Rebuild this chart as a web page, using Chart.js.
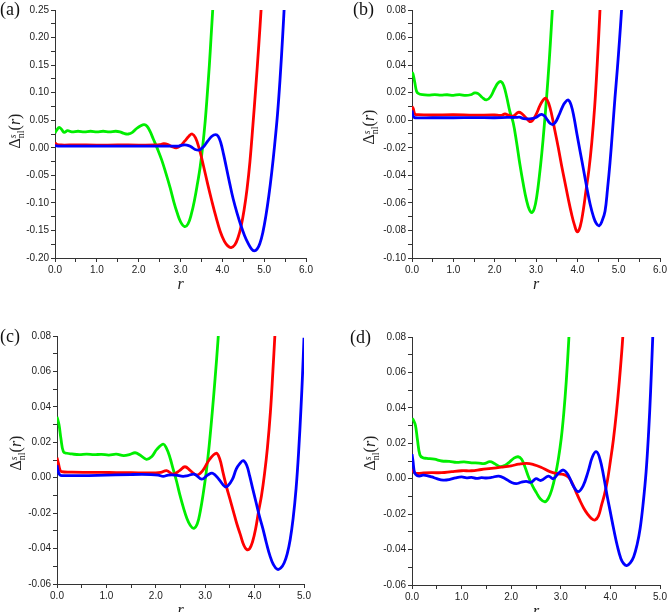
<!DOCTYPE html>
<html><head><meta charset="utf-8">
<script src="https://cdn.jsdelivr.net/npm/chart.js@4.4.1/dist/chart.umd.min.js"></script>
<style>
html,body{margin:0;padding:0;background:#fff;width:667px;height:612px;overflow:hidden;position:relative}
canvas{position:absolute}
.pl{position:absolute;font-family:'Liberation Serif','Times New Roman',serif;font-size:18px;line-height:18px;color:#111}
.yt{position:absolute;font-family:'Liberation Serif','Times New Roman',serif;font-size:16px;line-height:16px;color:#222;white-space:nowrap;transform:translate(-50%,-50%) rotate(-90deg)}
.st{display:inline-block;vertical-align:-0.45em;line-height:0.85;font-size:0.62em;text-align:left}
</style></head><body>
<canvas id="ca" width="333" height="300" style="left:0;top:0"></canvas>
<canvas id="cb" width="340" height="300" style="left:334px;top:0"></canvas>
<canvas id="cc" width="333" height="330" style="left:0;top:300px"></canvas>
<canvas id="cd" width="340" height="330" style="left:334px;top:300px"></canvas>
<div class="pl" style="left:0;top:0">(a)</div>
<div class="pl" style="left:353px;top:0">(b)</div>
<div class="pl" style="left:0;top:327px">(c)</div>
<div class="pl" style="left:350px;top:328px">(d)</div>
<div class="yt" style="left:16px;top:131px">Δ<span class="st"><i>s</i><br>nl</span>(<i>r</i>)</div>
<div class="yt" style="left:370px;top:127px">Δ<span class="st"><i>s</i><br>nl</span>(<i>r</i>)</div>
<div class="yt" style="left:17px;top:453px">Δ<span class="st"><i>s</i><br>nl</span>(<i>r</i>)</div>
<div class="yt" style="left:371px;top:453px">Δ<span class="st"><i>s</i><br>nl</span>(<i>r</i>)</div>
<script>
// ---------- Panel (a) ----------
const a_green_r = [0.00,0.05,0.10,0.16,0.22,0.30,0.40,0.55,0.70,0.85,1.00,1.15,1.30,1.45,1.55,1.65,1.75,1.85,1.95,2.05,2.13,2.20,2.27,2.35,2.45,2.55,2.65,2.75,2.84,2.92,3.00,3.10,3.18,3.26,3.34,3.41,3.47,3.53,3.59,3.64,3.69,3.73,3.77,3.83];
const a_green_v = [0.027,0.033,0.037,0.033,0.028,0.031,0.029,0.030,0.029,0.030,0.029,0.030,0.029,0.030,0.029,0.026,0.025,0.028,0.035,0.040,0.042,0.039,0.030,0.016,-0.002,-0.022,-0.046,-0.072,-0.098,-0.118,-0.134,-0.143,-0.138,-0.120,-0.093,-0.063,-0.035,0.002,0.048,0.097,0.150,0.200,0.250,0.330];
const a_red_r = [0.00,0.05,0.15,0.50,1.00,1.50,2.00,2.40,2.50,2.60,2.70,2.80,2.90,3.00,3.10,3.20,3.28,3.36,3.45,3.55,3.65,3.75,3.85,3.95,4.05,4.13,4.21,4.30,4.38,4.45,4.52,4.59,4.66,4.73,4.80,4.87,4.93,5.00];
const a_red_v = [0.009,0.006,0.005,0.0052,0.0048,0.0051,0.0049,0.005,0.0055,0.0075,0.006,0.002,0.000,0.004,0.012,0.021,0.025,0.018,-0.002,-0.033,-0.066,-0.097,-0.126,-0.152,-0.170,-0.178,-0.181,-0.176,-0.162,-0.142,-0.113,-0.075,-0.025,0.040,0.110,0.185,0.255,0.340];
const a_blue_r = [0.00,0.10,0.50,1.00,1.50,2.00,2.50,2.80,2.95,3.05,3.15,3.25,3.35,3.45,3.55,3.65,3.75,3.84,3.90,3.96,4.03,4.10,4.18,4.26,4.35,4.44,4.53,4.62,4.70,4.76,4.83,4.90,4.97,5.04,5.11,5.18,5.25,5.32,5.38,5.44,5.49,5.55];
const a_blue_v = [0.004,0.003,0.003,0.003,0.003,0.003,0.003,0.003,0.003,0.005,0.005,0.002,-0.003,-0.004,0.002,0.012,0.021,0.024,0.021,0.010,-0.012,-0.037,-0.066,-0.093,-0.118,-0.140,-0.159,-0.174,-0.184,-0.187,-0.184,-0.173,-0.153,-0.124,-0.088,-0.045,0.005,0.062,0.125,0.200,0.270,0.360];

// ---------- Panel (b) ----------
const b_green_r = [0.00,0.03,0.07,0.11,0.15,0.25,0.40,0.55,0.70,0.85,1.00,1.15,1.30,1.42,1.52,1.60,1.70,1.80,1.90,2.00,2.08,2.16,2.22,2.29,2.37,2.45,2.53,2.61,2.69,2.77,2.84,2.90,2.96,3.02,3.08,3.14,3.20,3.26,3.32,3.37,3.42,3.47];
const b_green_v = [0.035,0.033,0.027,0.021,0.0195,0.0185,0.0182,0.0186,0.0182,0.0185,0.0181,0.0186,0.0180,0.0185,0.0198,0.0193,0.0165,0.0147,0.017,0.023,0.027,0.028,0.025,0.017,0.006,-0.002,-0.016,-0.032,-0.046,-0.058,-0.065,-0.067,-0.064,-0.055,-0.041,-0.024,-0.004,0.018,0.043,0.067,0.093,0.120];
const b_red_r = [0.00,0.03,0.07,0.15,0.50,1.00,1.50,2.00,2.15,2.25,2.35,2.45,2.57,2.65,2.75,2.85,2.92,3.00,3.10,3.18,3.24,3.31,3.38,3.46,3.54,3.62,3.70,3.78,3.86,3.93,4.00,4.07,4.14,4.21,4.28,4.35,4.42,4.48,4.54,4.60];
const b_red_v = [0.010,0.0085,0.0045,0.004,0.0038,0.004,0.0037,0.0038,0.0035,0.0045,0.0035,0.003,0.0057,0.005,0.002,-0.001,0.000,0.004,0.011,0.015,0.0159,0.012,0.004,-0.008,-0.020,-0.033,-0.045,-0.057,-0.068,-0.076,-0.081,-0.077,-0.066,-0.051,-0.036,-0.016,0.010,0.040,0.075,0.115];
const b_blue_r = [0.00,0.03,0.07,0.50,1.00,1.50,2.00,2.30,2.50,2.60,2.70,2.85,3.00,3.07,3.14,3.21,3.28,3.35,3.42,3.49,3.56,3.63,3.70,3.78,3.85,3.92,3.99,4.07,4.15,4.23,4.31,4.39,4.46,4.53,4.60,4.67,4.73,4.79,4.85,4.91,4.97,5.02,5.07,5.12];
const b_blue_v = [0.007,0.003,0.0018,0.0018,0.0018,0.0019,0.0018,0.002,0.002,0.0022,0.0012,0.001,0.002,0.0035,0.0043,0.003,0.000,-0.0025,-0.003,-0.0005,0.004,0.009,0.0128,0.0147,0.011,0.002,-0.010,-0.023,-0.036,-0.049,-0.061,-0.070,-0.075,-0.0766,-0.073,-0.066,-0.050,-0.031,-0.008,0.016,0.038,0.058,0.080,0.105];

// ---------- Panel (c) ----------
const c_green_r = [0.00,0.04,0.08,0.13,0.20,0.30,0.45,0.60,0.75,0.90,1.05,1.20,1.35,1.48,1.58,1.68,1.81,1.92,2.02,2.15,2.21,2.28,2.35,2.42,2.49,2.56,2.63,2.70,2.77,2.84,2.90,2.96,3.02,3.08,3.14,3.20,3.26,3.31];
const c_green_v = [0.0344,0.030,0.022,0.0147,0.0138,0.0134,0.0130,0.0133,0.0130,0.0132,0.0128,0.0133,0.0125,0.0132,0.0141,0.0128,0.0104,0.0120,0.0160,0.0190,0.017,0.012,0.005,-0.002,-0.010,-0.017,-0.023,-0.027,-0.0286,-0.026,-0.019,-0.009,0.003,0.018,0.036,0.056,0.078,0.100];
const c_red_r = [0.00,0.03,0.06,0.09,0.30,0.60,0.90,1.20,1.50,1.80,2.00,2.10,2.22,2.35,2.48,2.59,2.70,2.83,2.95,3.08,3.22,3.29,3.36,3.43,3.50,3.57,3.64,3.71,3.78,3.84,3.90,3.96,4.02,4.08,4.14,4.20,4.26,4.32,4.37,4.41,4.46];
const c_red_v = [0.0113,0.008,0.0045,0.0034,0.0031,0.003,0.003,0.0029,0.0028,0.0027,0.0027,0.003,0.004,0.002,0.004,0.0062,0.004,0.0015,0.004,0.010,0.0138,0.011,0.003,-0.005,-0.012,-0.019,-0.026,-0.032,-0.038,-0.0405,-0.040,-0.036,-0.029,-0.019,-0.010,0.002,0.017,0.037,0.060,0.080,0.105];
const c_blue_r = [0.00,0.03,0.06,0.10,0.50,1.00,1.50,1.90,2.05,2.15,2.25,2.40,2.55,2.65,2.78,2.93,3.05,3.15,3.28,3.40,3.46,3.55,3.63,3.70,3.77,3.84,3.90,3.96,4.03,4.10,4.17,4.24,4.31,4.38,4.46,4.53,4.60,4.66,4.72,4.78,4.84,4.89,4.94,4.97,5.00,5.03];
const c_blue_v = [0.007,0.003,0.0015,0.0012,0.0012,0.0015,0.0018,0.0018,0.0015,0.0008,0.0015,0.0015,0.0008,0.0012,0.002,-0.0008,0.0015,0.0025,-0.001,-0.005,-0.0045,-0.001,0.005,0.008,0.0096,0.007,0.001,-0.006,-0.014,-0.022,-0.029,-0.037,-0.044,-0.049,-0.0517,-0.051,-0.048,-0.043,-0.035,-0.023,-0.006,0.014,0.040,0.058,0.079,0.102];

// ---------- Panel (d) ----------
const d_green_r = [0.00,0.03,0.07,0.11,0.16,0.22,0.30,0.45,0.60,0.75,0.90,1.05,1.20,1.35,1.45,1.57,1.67,1.77,1.87,1.97,2.05,2.14,2.21,2.28,2.35,2.43,2.51,2.59,2.68,2.75,2.82,2.89,2.95,3.01,3.06,3.11,3.16,3.20];
const d_green_v = [0.034,0.033,0.030,0.022,0.0134,0.0118,0.0115,0.011,0.010,0.0098,0.0092,0.0095,0.009,0.0088,0.0085,0.0096,0.0085,0.0068,0.0075,0.0095,0.0115,0.0124,0.011,0.0065,0.001,-0.004,-0.008,-0.0115,-0.013,-0.011,-0.006,0.002,0.011,0.023,0.037,0.055,0.078,0.100];
const d_red_r = [0.00,0.03,0.08,0.20,0.40,0.60,0.80,1.00,1.20,1.40,1.60,1.80,2.00,2.15,2.31,2.45,2.60,2.78,2.95,3.05,3.15,3.22,3.30,3.38,3.46,3.54,3.62,3.69,3.76,3.82,3.88,3.94,4.00,4.06,4.12,4.18,4.24,4.29];
const d_red_v = [0.0055,0.004,0.003,0.0032,0.0034,0.0034,0.004,0.0045,0.0045,0.0052,0.0058,0.0065,0.0073,0.0082,0.0087,0.008,0.0065,0.004,0.0027,0.0025,0.001,-0.002,-0.007,-0.012,-0.0165,-0.020,-0.0225,-0.0233,-0.021,-0.015,-0.009,-0.001,0.010,0.022,0.037,0.055,0.076,0.098];
const d_blue_r = [0.00,0.02,0.04,0.06,0.10,0.15,0.22,0.30,0.40,0.50,0.63,0.75,0.88,1.00,1.10,1.20,1.30,1.40,1.50,1.60,1.75,1.88,2.00,2.10,2.20,2.30,2.40,2.50,2.60,2.75,2.85,2.95,3.05,3.15,3.25,3.35,3.45,3.55,3.64,3.72,3.79,3.86,3.93,4.00,4.07,4.14,4.21,4.27,4.33,4.40,4.47,4.54,4.60,4.66,4.72,4.77,4.81,4.84,4.87,4.90];
const d_blue_v = [0.0139,0.010,0.005,0.003,0.0018,0.0015,0.002,0.0018,0.001,0.000,-0.0008,-0.0005,0.0005,0.001,0.0005,0.0008,0.0002,0.0006,0.0004,0.0007,0.0015,0.000,-0.002,-0.0028,-0.002,-0.0015,-0.002,0.000,-0.001,0.0015,0.000,0.003,0.0049,0.002,-0.004,-0.0073,-0.004,0.004,0.0125,0.0152,0.011,0.002,-0.009,-0.019,-0.029,-0.038,-0.045,-0.048,-0.049,-0.0475,-0.044,-0.037,-0.028,-0.014,0.004,0.026,0.049,0.070,0.092,0.115];

// axis ranges and tick steps per panel
const a_x_range = [0, 6], a_y_range = [-0.20, 0.25], a_y_major = 0.05;
const b_x_range = [0, 6], b_y_range = [-0.10, 0.08], b_y_major = 0.02;
const c_x_range = [0, 5], c_y_range = [-0.06, 0.08], c_y_major = 0.02;
const d_x_range = [0, 5], d_y_range = [-0.06, 0.08], d_y_major = 0.02;
const x_major = 1.0;

const AXIS = '#333';
const TXT = '#222';
const SANS = "'Liberation Sans', Arial, Helvetica, sans-serif";
const SERIF = "'Liberation Serif', 'Times New Roman', serif";

function pts(xs, ys){ return xs.map((x,i)=>({x:x, y:ys[i]})); }
function isMajor(v, step){ return Math.abs(Math.round(v/step)*step - v) < 1e-7; }

function makePanel(id, series, xr, yr, ymaj, pad){
  const ds = series.map(s => ({
    data: pts(s.r, s.v), borderColor: s.c, borderWidth: 2.8, pointRadius: 0,
    fill: false, tension: 0.4, clip: 0
  }));
  new Chart(document.getElementById(id), {
    type: 'line',
    data: { datasets: ds },
    options: {
      responsive: false, animation: false, devicePixelRatio: 1,
      layout: { padding: pad },
      plugins: { legend: { display: false }, tooltip: { enabled: false } },
      scales: {
        x: {
          type: 'linear', min: xr[0], max: xr[1],
          afterFit: s => { s.height = 42; },
          ticks: { stepSize: x_major/2, autoSkip: false, maxRotation: 0, padding: 2,
            color: TXT, font: { family: SANS, size: 10 },
            callback: v => isMajor(v, x_major) ? v.toFixed(1) : '' },
          grid: { drawOnChartArea: false, drawTicks: true, tickLength: 4, tickColor: AXIS },
          border: { display: true, color: AXIS, width: 1 },
          title: { display: true, text: 'r', color: TXT, font: { family: SERIF, size: 16, style: 'italic' }, padding: { top: 0, bottom: 6 } }
        },
        y: {
          type: 'linear', min: yr[0], max: yr[1],
          afterFit: s => { s.width = 50; },
          ticks: { stepSize: ymaj/2, autoSkip: false, padding: 2,
            color: TXT, font: { family: SANS, size: 10 },
            callback: v => isMajor(v, ymaj) ? v.toFixed(2) : '' },
          grid: { drawOnChartArea: false, drawTicks: true, tickLength: 4, tickColor: AXIS },
          border: { display: true, color: AXIS, width: 1 }
        }
      }
    }
  });
}

const BLUE = '#0000ff', RED = '#ff0000', GREEN = '#00ee00';

makePanel('ca', [
  { r: a_blue_r, v: a_blue_v, c: BLUE },
  { r: a_red_r, v: a_red_v, c: RED },
  { r: a_green_r, v: a_green_v, c: GREEN }
], a_x_range, a_y_range, a_y_major, { left: 5, top: 10, right: 27, bottom: 0 });

makePanel('cb', [
  { r: b_blue_r, v: b_blue_v, c: BLUE },
  { r: b_red_r, v: b_red_v, c: RED },
  { r: b_green_r, v: b_green_v, c: GREEN }
], b_x_range, b_y_range, b_y_major, { left: 28, top: 10, right: 14, bottom: 0 });

makePanel('cc', [
  { r: c_blue_r, v: c_blue_v, c: BLUE },
  { r: c_red_r, v: c_red_v, c: RED },
  { r: c_green_r, v: c_green_v, c: GREEN }
], c_x_range, c_y_range, c_y_major, { left: 7, top: 36, right: 29, bottom: 4 });

makePanel('cd', [
  { r: d_blue_r, v: d_blue_v, c: BLUE },
  { r: d_red_r, v: d_red_v, c: RED },
  { r: d_green_r, v: d_green_v, c: GREEN }
], d_x_range, d_y_range, d_y_major, { left: 28, top: 37, right: 14, bottom: 3 });
</script>
</body></html>
